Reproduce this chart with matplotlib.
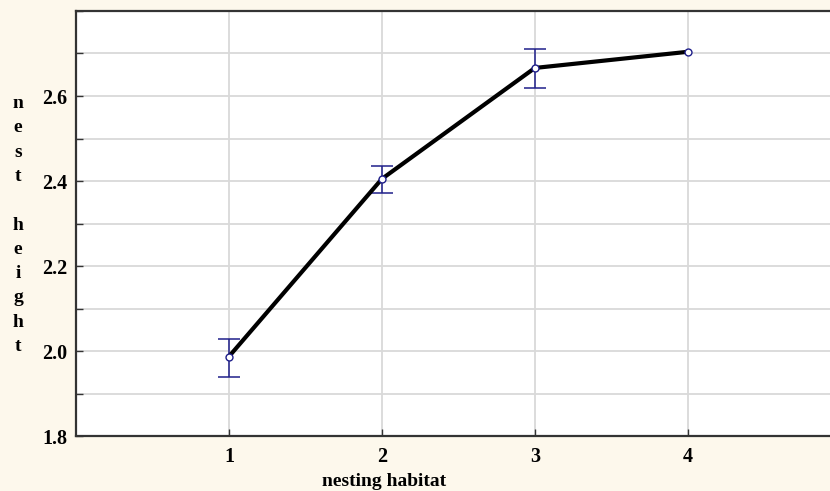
import numpy as np
import matplotlib.pyplot as plt
from matplotlib.ticker import MultipleLocator

habitat = [1, 2, 3, 4]
mean_height = [1.987, 2.405, 2.666, 2.704]
err_low = [0.047, 0.033, 0.047, 0.0]
err_high = [0.041, 0.030, 0.045, 0.0]

serif = ['Liberation Serif', 'DejaVu Serif']

fig = plt.figure(figsize=(8.3, 4.91), dpi=100, facecolor='#fdf8ec')
ax = fig.add_axes([0.0916, 0.112, 0.9084, 0.8656])
ax.set_facecolor('white')

# error bars only where there is a spread
has_err = [i for i in range(len(habitat)) if err_low[i] + err_high[i] > 0]
ax.errorbar([habitat[i] for i in has_err], [mean_height[i] for i in has_err],
            yerr=[[err_low[i] for i in has_err], [err_high[i] for i in has_err]],
            fmt='none', ecolor='#1f1f8a', elinewidth=1.1, capsize=8,
            capthick=1.1, zorder=3)
ax.plot(habitat, mean_height, color='black', lw=3, zorder=4)
ax.plot(habitat, mean_height, ls='none', marker='o', ms=5, mfc='white',
        mec='#1f1f8a', mew=1, zorder=5)

ax.set_xlim(0, 4.93)
ax.set_ylim(1.8, 2.8)
ax.set_xticks(habitat)
ax.yaxis.set_major_locator(MultipleLocator(0.2))
ax.yaxis.set_minor_locator(MultipleLocator(0.1))
ax.grid(True, which='both', color='#d9d9d9', lw=1.3, zorder=0)
ax.set_axisbelow(True)

ax.tick_params(which='both', direction='in', length=5, width=1, color='#333333')
ax.tick_params(axis='x', pad=8)
ax.tick_params(axis='y', pad=6)
for lbl in ax.get_xticklabels() + ax.get_yticklabels():
    lbl.set_family(serif)
    lbl.set_fontweight('bold')
    lbl.set_fontsize(14.5)
ax.yaxis.set_major_formatter(plt.FuncFormatter(lambda v, p: '' if v > 2.75 else '%.1f' % v))

for s in ['left', 'top', 'bottom']:
    ax.spines[s].set_linewidth(1.6)
    ax.spines[s].set_color('#333333')
ax.spines['right'].set_visible(False)

# stacked y label
fig.text(18 / 830, 1 - 225 / 491, 'n\ne\ns\nt\n\nh\ne\ni\ng\nh\nt',
         family=serif, fontweight='bold', fontsize=14, ha='center', va='center',
         linespacing=1.56)
fig.text(384 / 830, 1 - 481 / 491, 'nesting habitat', family=serif,
         fontweight='bold', fontsize=14, ha='center', va='center')

plt.savefig('out.png', dpi=100, facecolor=fig.get_facecolor())
